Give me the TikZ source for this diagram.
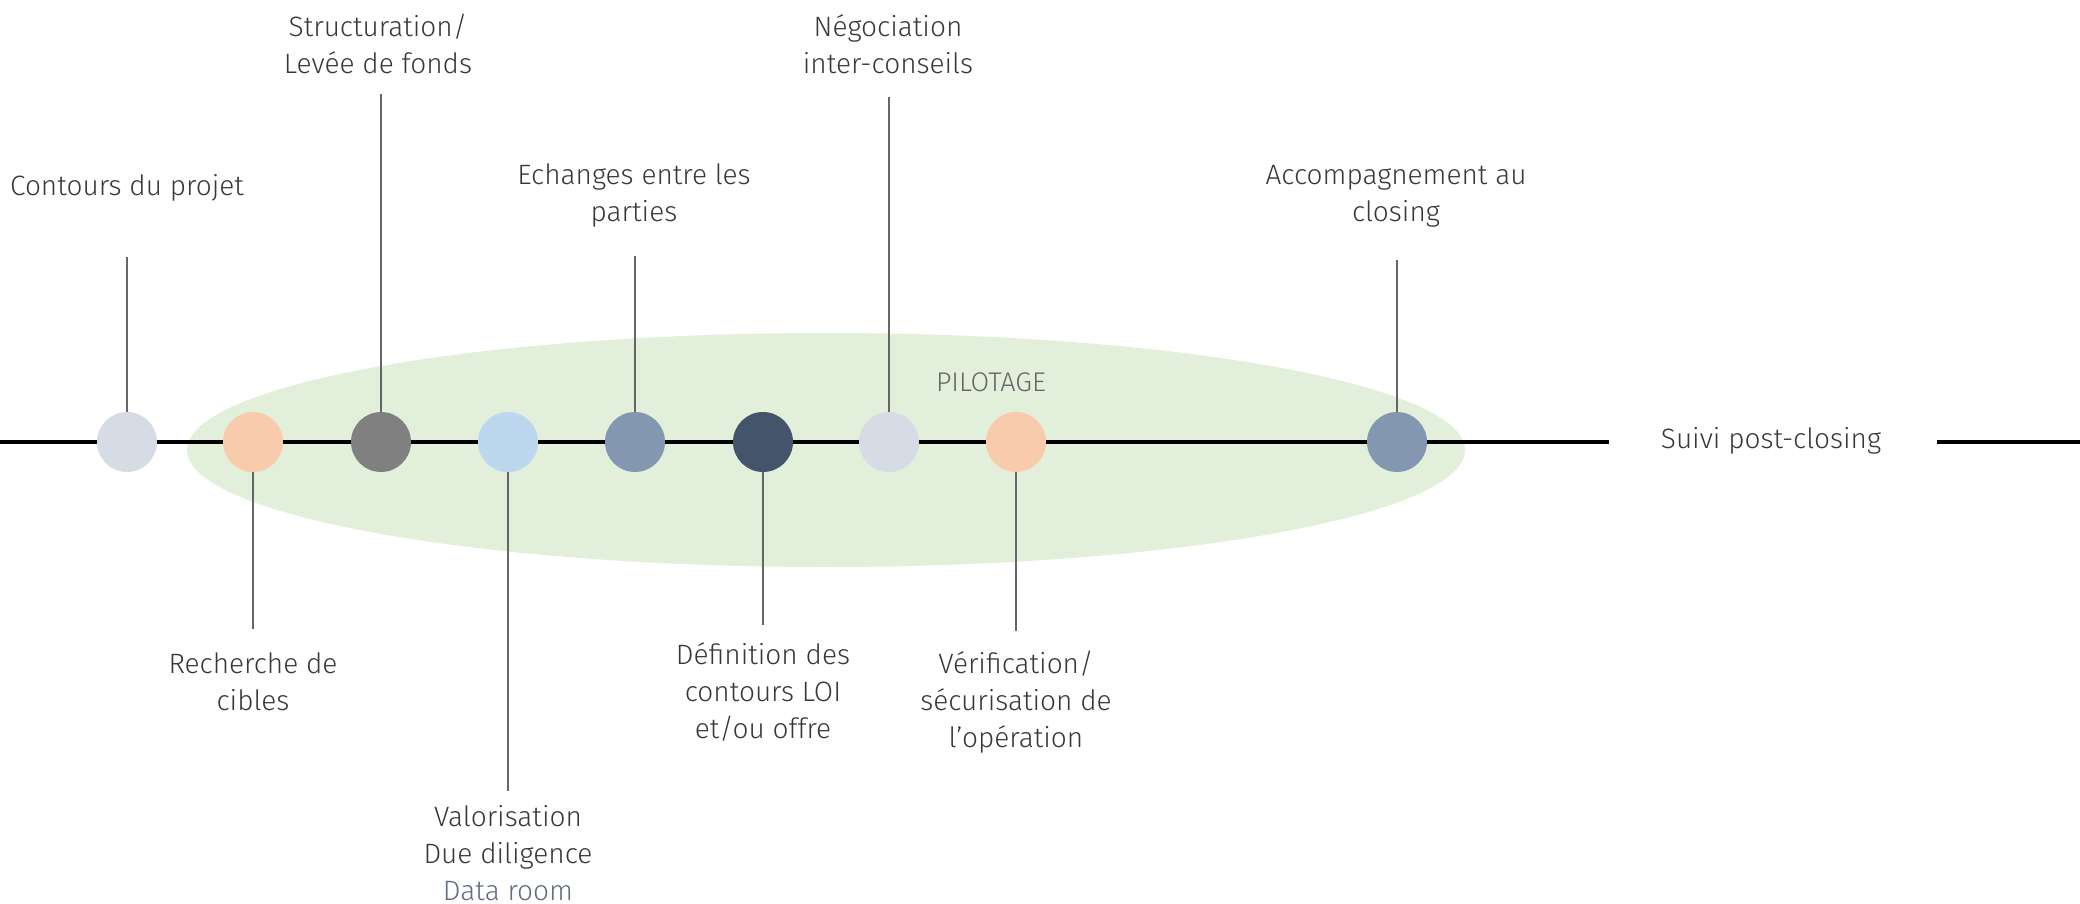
\documentclass[tikz,border=0pt]{standalone}
\usepackage{fontspec}
\setmainfont{Fira Sans Light}
\usetikzlibrary{positioning}

\definecolor{pale}{HTML}{D6DCE5}
\definecolor{peach}{HTML}{F8CBAD}
\definecolor{midgray}{HTML}{808080}
\definecolor{skyblue}{HTML}{BDD7EE}
\definecolor{slate}{HTML}{8497B0}
\definecolor{navy}{HTML}{44546A}
\definecolor{pilot}{HTML}{E2EFDA}
\definecolor{txt}{HTML}{383838}

\begin{document}
\begin{tikzpicture}[x=1pt,y=-1pt,
dot/.style={circle,inner sep=0pt,minimum size=60pt,draw=none},
step label/.style={align=center,text=txt,
  font=\fontsize{28}{37}\selectfont},
tick/.style={line width=1.5pt,draw=black!60}
]
\useasboundingbox (0,0) rectangle (2080,904);

% zone de pilotage
\fill [pilot] (826,450) ellipse [x radius=639, y radius=117];
\node (pil) [text=black!60,font=\fontsize{27}{30}\selectfont] at (991,382) {PILOTAGE};

% frise
\node (suivi) [step label] at (1771,441) {Suivi post-closing};
\coordinate (lft) at (0,442);
\coordinate (rgt) at (2080,442);
\coordinate (gap1) at (1609,442);
\coordinate (gap2) at (1937,442);
\draw [line width=4pt] (lft) -- (gap1);
\draw [line width=4pt] (gap2) -- (rgt);

\node (c1) [dot,fill=pale] at (127,442) {};
\node (c2) [dot,fill=peach] at (253,442) {};
\node (c3) [dot,fill=midgray] at (381,442) {};
\node (c4) [dot,fill=skyblue] at (508,442) {};
\node (c5) [dot,fill=slate] at (635,442) {};
\node (c6) [dot,fill=navy] at (763,442) {};
\node (c7) [dot,fill=pale] at (889,442) {};
\node (c8) [dot,fill=peach] at (1016,442) {};
\node (c9) [dot,fill=slate] at (1397,442) {};

% etapes au-dessus
\node (l1) [step label] at (127,188) {Contours du projet};
\node (l3) [step label] at (378,44) {Structuration/\\Levée de fonds};
\node (l5) [step label] at (634,195) {Echanges entre les\\parties};
\node (l7) [step label] at (888,44) {Négociation\\inter-conseils};
\node (l9) [step label] at (1396,196) {Accompagnement au\\closing};

% etapes en dessous
\node (l2) [step label] at (253,682) {Recherche de\\cibles};
\node (l4) [step label] at (508,853) {Valorisation\\Due diligence\\\textcolor{navy!85}{Data room}};
\node (l6) [step label] at (763,692) {Définition des\\contours LOI\\et/ou offre};
\node (l8) [step label] at (1016,702) {Vérification/\\sécurisation de\\l’opération};

\coordinate (t1) at (127,257);
\coordinate (t3) at (381,94);
\coordinate (t5) at (635,256);
\coordinate (t7) at (889,97);
\coordinate (t9) at (1397,260);
\coordinate (t2) at (253,629);
\coordinate (t4) at (508,791);
\coordinate (t6) at (763,625);
\coordinate (t8) at (1016,631);

\foreach \i in {1,...,9}
  \draw [tick] (c\i) -- (t\i);

\end{tikzpicture}
\end{document}
